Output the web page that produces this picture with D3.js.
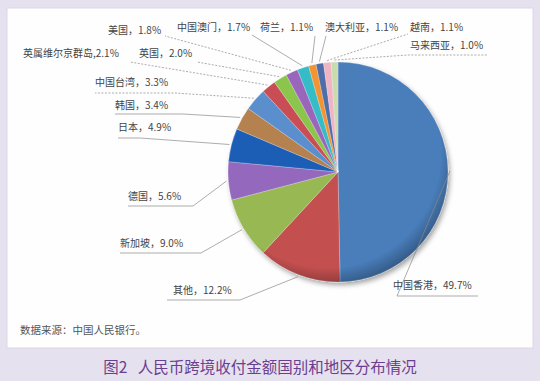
<!DOCTYPE html>
<html>
<head>
<meta charset="utf-8">
<script src="https://cdn.jsdelivr.net/npm/d3@7/dist/d3.min.js"></script>
<style>
  body { margin: 0; background: #e6e1ef; }
  svg { display: block; font-family: "Noto Sans CJK SC", "Noto Sans", sans-serif; }
</style>
</head>
<body>
<svg id="chart"></svg>
<script>
const W = 540
const H = 381

// data
const names = ['中国香港', '其他', '新加坡', '德国', '日本', '韩国', '中国台湾', '英属维尔京群岛',
  '英国', '美国', '中国澳门', '荷兰', '澳大利亚', '越南', '马来西亚']
const shares = [49.7, 12.2, 9.0, 5.6, 4.9, 3.4, 3.3, 2.1, 2.0, 1.8, 1.7, 1.1, 1.1, 1.1, 1.0]
const colors = ['#4a7ebb', '#c3504f', '#97b853', '#9469bd', '#1d5db6', '#b4814f', '#5a8ecc', '#c94d55',
  '#8cc54c', '#9a66bb', '#35bcc6', '#f39431', '#4f6ea8', '#f1b4c5', '#c8dcae']

// label layout: text x, baseline y, elbow point, end of underline, dashed?
const labelPos = [
  { x: 393, y: 289, ex: 397, ey: 296, ux: 478, dash: false },
  { x: 173, y: 294, ex: 240, ey: 300, ux: 167, dash: false },
  { x: 120, y: 247, ex: 201, ey: 253, ux: 120, dash: false },
  { x: 128, y: 200, ex: 193, ey: 206, ux: 128, dash: false },
  { x: 118, y: 131, ex: 140, ey: 138, ux: 118, dash: false },
  { x: 115, y: 109, ex: 183, ey: 114, ux: 115, dash: false },
  { x: 95, y: 86, ex: 175, ey: 93, ux: 95, dash: true },
  { x: 23, y: 57, ex: 130, ey: 62, ux: 130, dash: true },
  { x: 139, y: 57, ex: 197, ey: 62, ux: 197, dash: true },
  { x: 108, y: 34, ex: 165, ey: 36, ux: 165, dash: true },
  { x: 177, y: 31, ex: 252, ey: 35, ux: 252, dash: false },
  { x: 260, y: 31, ex: 315, ey: 36, ux: 315, dash: false },
  { x: 325, y: 31, ex: 326, ey: 36, ux: 326, dash: false },
  { x: 410, y: 31, ex: 408, ey: 34, ux: 408, dash: true },
  { x: 410, y: 49, ex: 408, ey: 55, ux: 488, dash: true }
]

const svg = d3.select('#chart').attr('width', W).attr('height', H)

const defs = svg.append('defs')
const shadow = defs.append('filter').attr('id', 'shadow')
  .attr('x', '-20%').attr('y', '-20%').attr('width', '140%').attr('height', '140%')
shadow.append('feDropShadow').attr('dx', 2).attr('dy', 3).attr('stdDeviation', 2.5)
  .attr('flood-color', '#000').attr('flood-opacity', 0.35)

const rim = defs.append('radialGradient').attr('id', 'rim')
  .attr('cx', '0.45').attr('cy', '0.42').attr('r', '0.6')
rim.append('stop').attr('offset', '0.86').attr('stop-color', '#000').attr('stop-opacity', 0)
rim.append('stop').attr('offset', '1').attr('stop-color', '#000').attr('stop-opacity', 0.3)

// panel
svg.append('rect')
  .attr('x', 7).attr('y', 8).attr('width', 526).attr('height', 340)
  .attr('fill', '#fefefe').attr('stroke', '#dcd6e6')

const cx = 338, cy = 172, r = 110

const pie = d3.pie().sort(null).value(d => d).startAngle(0).endAngle(2 * Math.PI)
const arcs = pie(shares)
const arc = d3.arc().innerRadius(0).outerRadius(r)

const g = svg.append('g').attr('transform', `translate(${cx},${cy})`)

g.append('g').attr('filter', 'url(#shadow)')
  .selectAll('path')
  .data(arcs)
  .join('path')
  .attr('d', arc)
  .attr('fill', (d, i) => colors[i])
  .attr('stroke', 'rgba(255,255,255,0.35)')
  .attr('stroke-width', 0.7)

g.append('circle').attr('r', r).attr('fill', 'url(#rim)').attr('pointer-events', 'none')

// leader lines
const anchor = d3.arc().innerRadius(r + 2).outerRadius(r + 2)
svg.append('g')
  .selectAll('path')
  .data(arcs)
  .join('path')
  .attr('d', (d, i) => {
    const p = labelPos[i]
    const a = anchor.centroid(d)
    return `M${cx + a[0]},${cy + a[1]}L${p.ex},${p.ey}L${p.ux},${p.ey}`
  })
  .attr('fill', 'none')
  .attr('stroke', '#8a8a8a')
  .attr('stroke-width', 0.7)
  .attr('stroke-dasharray', (d, i) => labelPos[i].dash ? '2,1.5' : null)

// labels
svg.append('g')
  .selectAll('text')
  .data(arcs)
  .join('text')
  .attr('x', (d, i) => labelPos[i].x)
  .attr('y', (d, i) => labelPos[i].y)
  .attr('font-size', 10)
  .attr('fill', '#444')
  .text((d, i) => names[i] + (i === 7 ? ',' : '，') + shares[i].toFixed(1) + '%')

svg.append('text')
  .attr('x', 20).attr('y', 334)
  .attr('font-size', 10.5)
  .attr('fill', '#555')
  .text('数据来源：中国人民银行。')

svg.append('text')
  .attr('x', 260).attr('y', 373)
  .attr('text-anchor', 'middle')
  .attr('font-size', 15.5)
  .attr('fill', '#6a3f8f')
  .attr('xml:space', 'preserve')
  .text('图2   人民币跨境收付金额国别和地区分布情况')
</script>
</body>
</html>
